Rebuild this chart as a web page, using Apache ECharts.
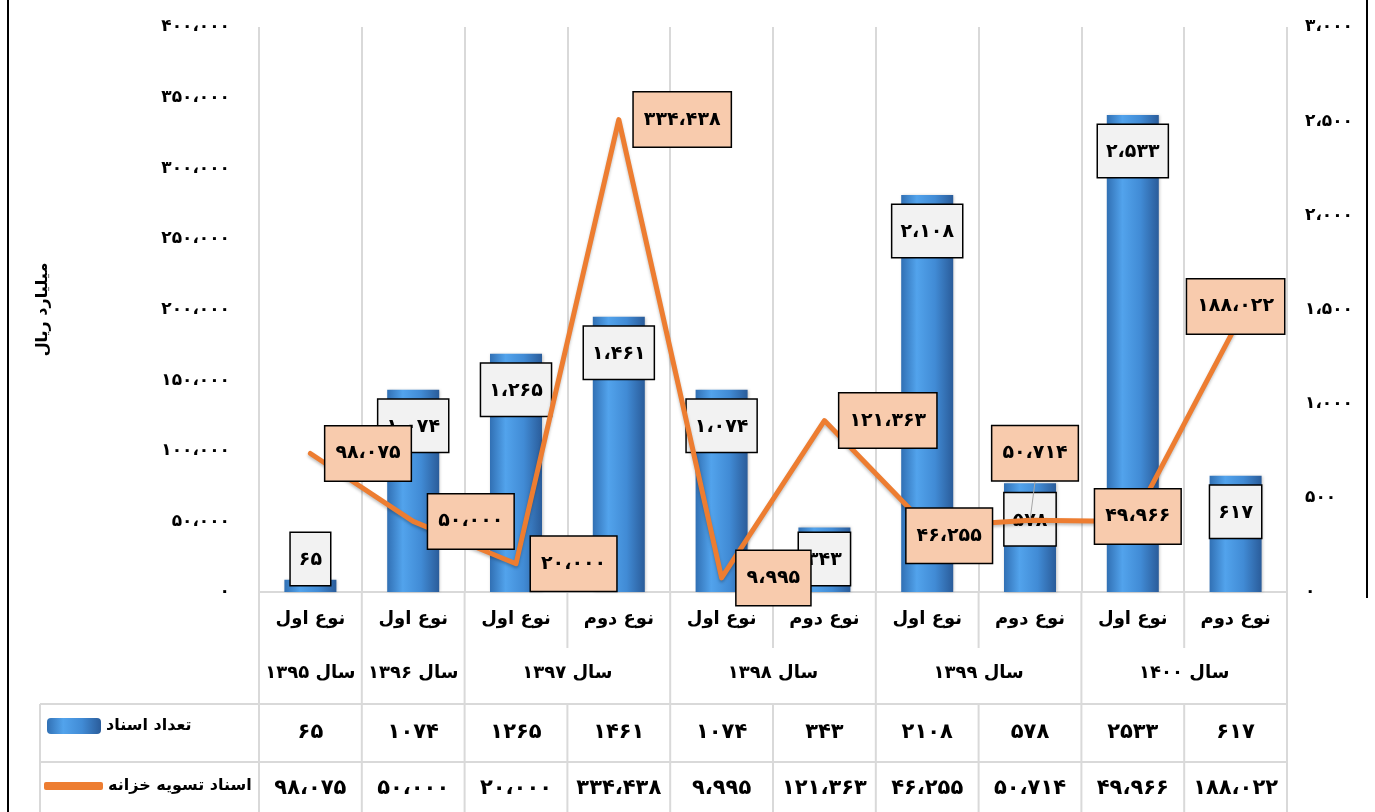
<!DOCTYPE html>
<html>
<head>
<meta charset="utf-8">
<script src="https://cdn.jsdelivr.net/npm/echarts@6/dist/echarts.min.js"></script>
<style>
  html, body { margin: 0; padding: 0; background: #fff; }
  #chart { width: 1375px; height: 812px; }
</style>
</head>
<body>
<div id="chart"></div>
<script>
// categories (left to right)
const docTypes = ['نوع اول', 'نوع اول', 'نوع اول', 'نوع دوم', 'نوع اول', 'نوع دوم', 'نوع اول', 'نوع دوم', 'نوع اول', 'نوع دوم'];
const docYears = ['۱۳۹۵', '۱۳۹۶', '۱۳۹۷', '۱۳۹۷', '۱۳۹۸', '۱۳۹۸', '۱۳۹۹', '۱۳۹۹', '۱۴۰۰', '۱۴۰۰'];

// series values
const docCount = [65, 1074, 1265, 1461, 1074, 343, 2108, 578, 2533, 617];
const treasury = [98075, 50000, 20000, 334438, 9995, 121363, 46255, 50714, 49966, 188022];

// axis scales
const leftMax = 400000, leftStep = 50000;
const rightMax = 3000, rightStep = 500;

const countName = 'تعداد اسناد';
const treasuryName = 'اسناد تسویه خزانه';
const unitName = 'میلیارد ریال';

const FONT = 'DejaVu Sans';
const GRID_COLOR = '#d9d9d9';

// placement of the line labels: 'right' or a [dx, dy] shift from the point
const lineLabelSpots = ['right', 'right', 'right', 'right', 'right', 'right', [22, 9], [5, -67], [5, -5], [0, -20]];

const faDigits = '۰۱۲۳۴۵۶۷۸۹';
function fa(n, group) {
  let s = String(n);
  if (group) s = s.replace(/\B(?=(\d{3})+(?!\d))/g, '،');
  return s.replace(/\d/g, d => faDigits[d]);
}

var myChart = echarts.init(document.getElementById('chart'));

const barData = docCount.map(v => {
  const item = { value: v };
  if (v < 400) item.label = { position: 'insideBottom', distance: 7 };
  return item;
});

const lineData = treasury.map((v, i) => {
  const item = { value: v };
  if (lineLabelSpots[i] === 'right') {
    item.label = { position: 'right', distance: 14 };
  } else {
    item.label = { position: 'inside' };
    if (i === 7) item.labelLine = { show: true, lineStyle: { color: '#a6a6a6', width: 1 } };
  }
  return item;
});

const barColor = new echarts.graphic.LinearGradient(0, 0, 1, 0, [
  { offset: 0, color: '#3170b4' },
  { offset: 0.3, color: '#52a3ec' },
  { offset: 0.65, color: '#418bd5' },
  { offset: 1, color: '#2a5c9a' }
]);

const boldText = { fontFamily: FONT, fontWeight: 'bold', color: '#000' };

const option = {
  animation: false,
  grid: { left: 259, right: 88, top: 27, bottom: 220 },
  legend: [
    {
      left: 47, top: 718, padding: 0, itemWidth: 54, itemHeight: 16,
      selectedMode: false, data: [countName],
      textStyle: Object.assign({ fontSize: 16 }, boldText)
    },
    {
      left: 44, top: 778, padding: 0, itemWidth: 59, itemHeight: 8, icon: 'roundRect',
      selectedMode: false, data: [treasuryName],
      textStyle: Object.assign({ fontSize: 16 }, boldText)
    }
  ],
  xAxis: [
    {
      type: 'category', data: docTypes,
      axisLine: { show: true, lineStyle: { color: GRID_COLOR, width: 2 } },
      axisTick: { show: false },
      splitLine: { show: true, lineStyle: { color: GRID_COLOR, width: 2 } },
      axisLabel: Object.assign({ interval: 0, margin: 18, fontSize: 18 }, boldText)
    },
    {
      type: 'category', data: docCount.map(v => fa(v, false)), position: 'bottom', offset: 122,
      axisLine: { show: false }, axisTick: { show: false },
      axisLabel: Object.assign({ interval: 0, margin: 8, fontSize: 21 }, boldText)
    },
    {
      type: 'category', data: treasury.map(v => fa(v, true)), position: 'bottom', offset: 178,
      axisLine: { show: false }, axisTick: { show: false },
      axisLabel: Object.assign({ interval: 0, margin: 8, fontSize: 21 }, boldText)
    }
  ],
  yAxis: [
    {
      type: 'value', min: 0, max: leftMax, interval: leftStep,
      name: unitName, nameLocation: 'middle', nameRotate: 90, nameGap: 208,
      nameTextStyle: Object.assign({ fontSize: 16 }, boldText),
      axisLine: { show: false }, axisTick: { show: false }, splitLine: { show: false },
      axisLabel: Object.assign({ margin: 29, fontSize: 17, formatter: v => fa(v, true) }, boldText)
    },
    {
      type: 'value', min: 0, max: rightMax, interval: rightStep, position: 'right',
      axisLine: { show: false }, axisTick: { show: false }, splitLine: { show: false },
      axisLabel: Object.assign({ margin: 18, fontSize: 17, formatter: v => fa(v, true) }, boldText)
    }
  ],
  series: [
    {
      name: countName, type: 'bar', yAxisIndex: 1, barWidth: 52, barGap: '-100%',
      data: barData,
      itemStyle: { color: barColor, shadowColor: 'rgba(0,0,0,0.25)', shadowBlur: 3, shadowOffsetX: 1 },
      label: {
        show: true, position: 'insideTop', distance: 10,
        formatter: p => fa(p.value, true),
        fontFamily: FONT, fontWeight: 'bold', fontSize: 19, color: '#000',
        backgroundColor: '#f2f2f2', borderColor: '#000', borderWidth: 1.5,
        padding: [18, 8, 15, 8]
      }
    },
    {
      name: 'cap', type: 'pictorialBar', yAxisIndex: 1, barWidth: 52, barGap: '-100%',
      symbol: 'path://M0,10 L7,0 L93,0 L100,10 Z', symbolSize: [52, 8],
      symbolPosition: 'end', symbolOffset: [0, '50%'],
      itemStyle: { color: '#92d8f8' },
      silent: true, data: docCount
    },
    {
      name: treasuryName, type: 'line', yAxisIndex: 0, data: lineData,
      symbol: 'circle', symbolSize: 2, showAllSymbol: true,
      itemStyle: { color: '#ed7d31' },
      lineStyle: { color: '#ed7d31', width: 5, cap: 'round', join: 'round',
                   shadowColor: 'rgba(0,0,0,0.25)', shadowBlur: 3, shadowOffsetY: 2 },
      label: {
        show: true,
        formatter: p => fa(p.value, true),
        fontFamily: FONT, fontWeight: 'bold', fontSize: 19, color: '#000',
        backgroundColor: '#f8cbad', borderColor: '#000', borderWidth: 1.5,
        padding: [19, 10, 16, 10]
      },
      labelLayout: p => {
        const spot = lineLabelSpots[p.dataIndex];
        return Array.isArray(spot) ? { dx: spot[0], dy: spot[1] } : {};
      }
    }
  ]
};

myChart.setOption(option);

// year row, table grid and outer frame
const px = i => myChart.convertToPixel({ xAxisIndex: 0 }, i);
const band = px(1) - px(0);
const x0 = px(0) - band / 2;
const xEnd = x0 + band * docTypes.length;
const axisY = 592, typeRowEnd = 648, tableTop = 704, tableMid = 762, tableBottom = 812, tableLeft = 40;

const elements = [];
const seg = (x1, y1, x2, y2, color, w) => elements.push({
  type: 'line', silent: true,
  shape: { x1, y1, x2, y2 },
  style: { stroke: color, lineWidth: w }
});

for (let b = 0; b <= docTypes.length; b++) {
  const x = x0 + b * band;
  const groupEdge = b === 0 || b === docTypes.length || docYears[b] !== docYears[b - 1];
  seg(x, axisY, x, groupEdge ? tableTop : typeRowEnd, GRID_COLOR, 2);
  seg(x, tableTop, x, tableBottom, GRID_COLOR, 2);
}
seg(tableLeft, tableTop, xEnd, tableTop, GRID_COLOR, 2);
seg(tableLeft, tableMid, xEnd, tableMid, GRID_COLOR, 2);
seg(tableLeft, tableTop, tableLeft, tableBottom, GRID_COLOR, 2);

let start = 0;
for (let i = 1; i <= docYears.length; i++) {
  if (i === docYears.length || docYears[i] !== docYears[start]) {
    elements.push({
      type: 'text', silent: true,
      x: (px(start) + px(i - 1)) / 2, y: 673,
      style: {
        text: 'سال ' + docYears[start],
        font: 'bold 18px "' + FONT + '"', fill: '#000',
        align: 'center', verticalAlign: 'middle'
      }
    });
    start = i;
  }
}

seg(8, 0, 8, 812, '#000', 2);
seg(1367, 0, 1367, 598, '#000', 2);

myChart.setOption({ graphic: elements });
</script>
</body>
</html>
